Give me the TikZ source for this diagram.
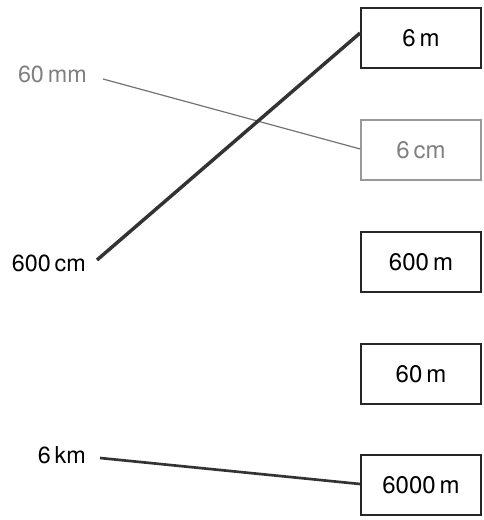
\documentclass[tikz,border=0pt]{standalone}
\usepackage{fontspec}
\setmainfont{TeX Gyre Heros}
\usetikzlibrary{calc}
\begin{document}
\begin{tikzpicture}[x=0.75pt,y=-0.75pt,
  lbl/.style={font=\fontsize{17.5}{20}\selectfont, inner sep=0pt},
  box/.style={draw=black!85, line width=1.4pt, minimum width=90pt, minimum height=45pt, inner sep=0pt, font=\fontsize{18}{21}\selectfont},
  faint/.style={draw=black!40, text=black!50, line width=1.1pt}]
\useasboundingbox (0,0) rectangle (483,520);
% boxes
\node[box] (b1) at (421,38) {6\,m};
\node[box,faint] (b2) at (421,150) {6\,cm};
\node[box] (b3) at (421,262) {600\,m};
\node[box] (b4) at (421,374) {60\,m};
\node[box] (b5) at (421,485) {6000\,m};
% left labels
\node[lbl, anchor=east, text=black!50] (l1) at (87,74) {60\,mm};
\node[lbl, anchor=east] (l2) at (86,263) {600\,cm};
\node[lbl, anchor=east] (l3) at (86,455) {6\,km};
% connector start points
\coordinate (s1) at (103,79);
\coordinate (s2) at (97,260);
\coordinate (s3) at (100,458);
\coordinate (e1) at ($(b1.west)+(0,-5)$);
\coordinate (e2) at ($(b2.west)+(0,-1)$);
\coordinate (e3) at ($(b5.west)+(0,-1)$);
% connectors
\draw[black!55, line width=0.9pt] (s1) -- (e2);
\draw[black!80, line width=2.6pt] (s2) -- (e1);
\draw[black!80, line width=2.0pt] (s3) -- (e3);
\end{tikzpicture}
\end{document}
